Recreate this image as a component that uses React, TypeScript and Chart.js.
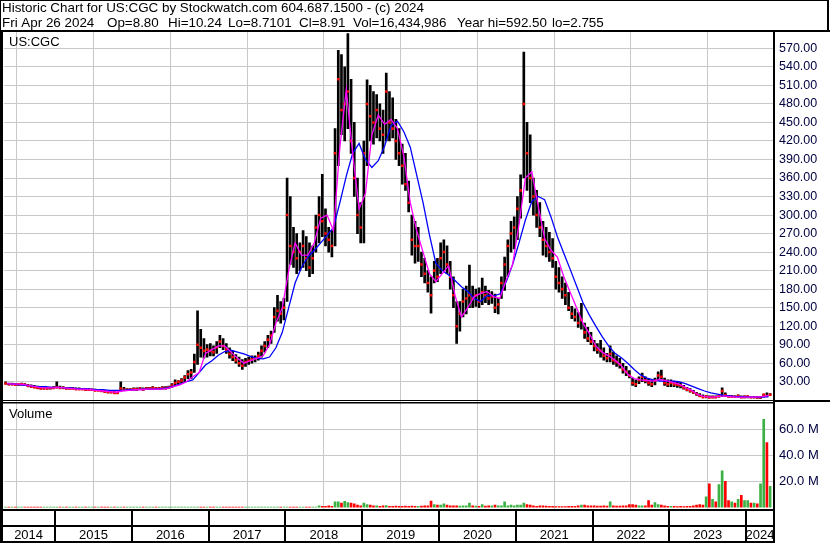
import { useEffect, useRef } from 'react';
import { Chart, registerables } from 'chart.js';
Chart.register(...registerables);

// ---- time frame ----
const chartStart = 2014 + 4 / 12; // left edge of plot (May 2014)
const chartEnd = 2024.363; // right edge of plot
const yearLabels = ['2014', '2015', '2016', '2017', '2018', '2019', '2020', '2021', '2022', '2023', '2024'];
const yearBoundaries = [2015, 2016, 2017, 2018, 2019, 2020, 2021, 2022, 2023, 2024];
const priceTicks = [30, 60, 90, 120, 150, 180, 210, 240, 270, 300, 330, 360, 390, 420, 450, 480, 510, 540, 570];
const volumeTicks = [20, 40, 60];

// ---- half-month price bars (May 2014 .. Apr 2024) ----
const high = [
  30, 28, 28, 27, 27, 28, 27, 26, 25, 24, 23, 22, 21, 21, 21, 22,
  30, 23, 22, 21, 21, 21, 20, 20, 19, 19, 19, 18, 18, 17, 17, 16, 15, 14, 14, 13, 30, 21, 19, 19,
  20, 20, 21, 20, 21, 21, 22, 21, 21, 22, 22, 23, 27, 33, 32, 35, 40, 48, 50, 75, 145, 115, 100, 90,
  92, 88, 95, 105, 100, 92, 85, 80, 74, 70, 66, 68, 70, 72, 72, 78, 88, 95, 105, 112, 150, 170, 160, 165,
  360, 330, 280, 270, 255, 275, 265, 255, 250, 300, 330, 366, 310, 280, 275, 440, 567, 560, 540, 594, 520, 450, 360, 320,
  420, 519, 510, 500, 495, 480, 470, 530, 500, 490, 455, 440, 415, 400, 355, 300, 290, 280, 240, 230, 210, 200, 225, 230,
  255, 260, 250, 225, 200, 160, 160, 180, 185, 219, 185, 180, 182, 198, 185, 178, 176, 172, 165, 200, 232, 260, 290, 297,
  330, 365, 564, 450, 430, 360, 340, 320, 290, 280, 272, 262, 225, 215, 200, 190, 175, 152, 148, 142, 157, 125, 118, 110,
  97, 92, 97, 85, 76, 88, 78, 72, 68, 60, 55, 48, 36, 33, 38, 44, 38, 35, 33, 36, 46, 49, 36, 33,
  33, 31, 30, 29, 24, 21, 19, 16, 13, 11, 9, 8, 7, 7, 7, 8, 20, 12, 8, 8, 7, 9, 7, 7,
  7, 6, 6, 6, 6, 10, 12, 11,
];
const low = [
  26, 25, 25, 24, 24, 25, 24, 22, 21, 20, 19, 18, 18, 18, 18, 19,
  20, 19, 19, 18, 18, 18, 17, 17, 17, 16, 16, 16, 15, 15, 14, 13, 12, 12, 11, 11, 15, 16, 16, 16,
  16, 16, 17, 16, 17, 17, 18, 17, 17, 18, 18, 19, 21, 24, 26, 28, 30, 35, 35, 45, 58, 70, 68, 70,
  72, 72, 76, 85, 82, 76, 68, 64, 60, 55, 50, 55, 58, 60, 62, 65, 70, 78, 85, 92, 110, 128, 125, 130,
  160, 220, 215, 205, 210, 215, 210, 200, 205, 240, 255, 265, 250, 240, 232, 250, 380, 430, 420, 440, 400, 330, 270, 255,
  255, 380, 420, 415, 425, 420, 400, 420, 420, 425, 390, 380, 350, 340, 305, 235, 222, 225, 200, 190, 175, 141, 190, 192,
  205, 210, 205, 180, 150, 92, 112, 135, 140, 150, 150, 152, 150, 155, 158, 155, 157, 142, 140, 165, 178, 200, 240, 245,
  260, 295, 360, 340, 320, 300, 280, 265, 235, 232, 225, 215, 180, 175, 165, 155, 145, 132, 128, 118, 115, 100, 95, 90,
  80, 76, 70, 65, 62, 62, 58, 55, 52, 44, 40, 36, 24, 22, 27, 30, 28, 24, 22, 25, 32, 33, 24, 22,
  22, 22, 21, 20, 18, 15, 13, 11, 8, 6, 5, 4, 4, 4, 4, 5, 6, 6, 5, 5, 5, 5, 4, 4,
  4, 4, 4, 3, 3, 5, 7, 8,
];
const close = [
  27, 26, 26, 25, 26, 26, 25, 23, 22, 21, 20, 19, 19, 19, 20, 20,
  21, 20, 20, 19, 19, 19, 18, 18, 18, 17, 17, 17, 16, 16, 15, 14, 13, 13, 12, 12, 19, 17, 17, 17,
  18, 18, 19, 18, 19, 19, 20, 19, 19, 20, 20, 21, 24, 28, 30, 32, 37, 42, 45, 62, 90, 85, 80, 82,
  80, 78, 86, 95, 88, 82, 75, 70, 65, 60, 56, 62, 64, 66, 68, 72, 80, 88, 98, 105, 135, 145, 140, 150,
  300, 250, 240, 230, 240, 250, 230, 215, 230, 280, 300, 290, 270, 260, 250, 400, 520, 470, 480, 500, 420, 360, 300, 280,
  400, 480, 460, 450, 470, 440, 430, 500, 450, 440, 420, 400, 380, 350, 320, 260, 250, 250, 220, 205, 190, 170, 210, 200,
  230, 240, 220, 200, 170, 120, 140, 160, 165, 170, 165, 170, 160, 175, 170, 165, 168, 150, 155, 190, 220, 250, 270, 280,
  310, 340, 480, 400, 360, 330, 300, 280, 260, 250, 240, 230, 200, 190, 180, 170, 150, 140, 135, 125, 130, 110, 100, 95,
  88, 82, 80, 72, 68, 75, 65, 62, 58, 50, 46, 40, 28, 26, 33, 38, 32, 28, 26, 32, 40, 38, 28, 26,
  28, 26, 25, 24, 20, 17, 15, 13, 10, 7, 5, 6, 4.5, 5, 4.8, 6.5, 15, 8, 6, 6.2, 5.8, 7, 5, 5.5,
  6, 5, 5, 4.5, 5, 9, 7, 9,
];
// volume in millions, half-month
const volume = [
  0, 0, 0, 0, 0, 0, 0, 0, 0, 0, 0, 0, 0, 0, 0, 0,
  0, 0, 0, 0, 0, 0, 0, 0, 0, 0, 0, 0, 0, 0, 0, 0, 0, 0, 0, 0, 0, 0, 0, 0,
  0, 0, 0, 0, 0, 0, 0, 0, 0, 0, 0, 0, 0, 0, 0, 0, 0, 0, 0, 0, 0, 0, 0, 0,
  0, 0, 0, 0, 0, 0, 0, 0, 0, 0, 0, 0, 0, 0, 0, 0, 0, 0, 0, 0, 0, 0, 0, 0,
  0, 0, 0, 0, 0, 0, 0, 0, 0, 0, 1, 0.5, 0.5, 1, 0.5, 4, 4, 3, 4.5, 3.5, 3, 2.5, 1.5, 1,
  3, 2, 1.5, 1, 1, 0.5, 1, 1.2, 0.5, 0.5, 0.8, 0.5, 0.5, 0.8, 0.5, 0.8, 0.5, 0.5, 0.8, 1, 1, 4.6, 2, 1.5,
  1.5, 2.5, 1.5, 1, 1, 1, 0.8, 1, 1, 3, 1, 0.8, 0.5, 2, 0.8, 1, 1, 1.5, 1, 1, 4, 1, 1.5, 1,
  1.5, 1.5, 3, 2, 1.5, 1, 0.5, 1, 1, 0.8, 0.5, 0.5, 0.3, 0.3, 0.3, 0.3, 0.5, 0.5, 0.5, 1, 1.5, 1.5, 1, 1,
  1, 0.8, 0.8, 1, 0.8, 4, 1, 0.8, 0.8, 1, 1, 2, 2, 1.5, 1, 1, 1, 5, 1.5, 3.5, 2, 1.5, 1, 0.5,
  0.5, 0.5, 0.3, 0.5, 0.3, 0.5, 0.5, 1, 1.5, 2, 1.5, 8, 18, 6, 4, 17.5, 28, 20, 5, 4, 3, 6, 9, 5,
  5, 3, 3, 2.5, 18, 68, 50, 16,
];

// ---- monthly moving averages (May 2014 .. Apr 2024) ----
const shortAvg = [
  27, 26, 26, 25, 23, 21, 20, 20,
  21, 20, 19, 18, 18, 17, 16, 15, 14, 13, 15, 16,
  17, 17, 18, 18, 18, 19, 22, 25, 30, 38, 45, 76,
  82, 88, 88, 78, 68, 60, 64, 68, 72, 90, 125, 150,
  210, 255, 235, 235, 255, 295, 300, 275, 410, 503, 400, 310,
  335, 430, 462, 447, 455, 440, 395, 320, 275, 240, 205, 192,
  205, 218, 170, 135, 150, 168, 173, 176, 168, 165, 195, 220,
  285, 360, 370, 315, 262, 243, 232, 200, 175, 150, 125, 108,
  88, 78, 72, 65, 56, 42, 35, 33, 32, 31, 34, 32,
  29, 26, 21, 16, 9, 6, 5, 6, 7, 6, 5, 5,
  5, 5, 6, 8,
];
const longAvg = [
  27, 26, 25, 24, 23, 22, 22, 21,
  21, 20, 20, 19, 19, 18, 17, 17, 16, 16, 16, 17,
  17, 18, 18, 18, 19, 20, 23, 26, 30, 33, 45, 57,
  64, 73, 79, 81, 78, 75, 71, 68, 67, 70, 85, 110,
  150, 190, 215, 232, 243, 255, 267, 280, 320, 363, 400, 416,
  390, 377, 388, 412, 445, 452, 435, 410, 365, 320, 268, 222,
  210, 203, 194, 184, 176, 165, 160, 170, 169, 172, 192, 220,
  255, 292, 322, 330, 325, 297, 265, 238, 212, 185, 158, 138,
  120, 103, 88, 76, 69, 60, 50, 41, 36, 33, 31, 31,
  31, 30, 27, 23, 19, 15, 12, 10, 8, 7, 6, 6,
  5, 5, 5, 6,
];

const headerLine1 = 'Historic Chart for US:CGC by Stockwatch.com 604.687.1500 - (c) 2024';
const headerLine2: [string, number][] = [
  ['Fri Apr 26 2024', 2],
  ['Op=8.80', 107],
  ['Hi=10.24', 168],
  ['Lo=8.7101', 228],
  ['Cl=8.91', 299],
  ['Vol=16,434,986', 353],
  ['Year hi=592.50', 457],
  ['lo=2.755', 552],
];

const FONT = '"Liberation Sans", Arial, sans-serif';

const framePlugin = {
  id: 'stockFrame',
  afterDraw(chart: any) {
    const ctx = chart.ctx as CanvasRenderingContext2D;
    const xs = chart.scales.x;
    const area = chart.chartArea;
    ctx.save();
    ctx.fillStyle = '#000';
    // header box
    ctx.fillRect(0, 0, 829, 1);
    ctx.fillRect(0, 0, 1, 31);
    ctx.fillRect(827, 0, 2, 31);
    ctx.fillRect(0, 30, 830, 2);
    // left border
    ctx.fillRect(0, 30, 3, 513);
    // right separator
    ctx.fillRect(773, 30, 2, 513);
    // double line between panes
    ctx.fillRect(0, 400, 774, 1);
    ctx.fillRect(0, 402, 774, 1.5);
    ctx.fillRect(774, 400, 56, 2);
    // bottom axis boxes
    ctx.fillRect(0, 509, 775, 2);
    ctx.fillRect(0, 525, 775, 2);
    ctx.fillRect(0, 541, 775, 2);
    const bounds = [area.left - 2, ...yearBoundaries.map((y) => xs.getPixelForValue(y)), 774];
    yearBoundaries.forEach((y) => {
      const px = Math.round(xs.getPixelForValue(y));
      ctx.fillRect(px - 1, 509, 2, 34);
    });
    ctx.font = `13px ${FONT}`;
    ctx.textAlign = 'center';
    ctx.textBaseline = 'alphabetic';
    yearLabels.forEach((lab, i) => {
      ctx.fillText(lab, (bounds[i] + bounds[i + 1]) / 2, 539);
    });
    // header text
    ctx.textAlign = 'left';
    ctx.font = `13.4px ${FONT}`;
    ctx.fillText(headerLine1, 2, 11.5);
    headerLine2.forEach(([t, x]) => ctx.fillText(t, x, 26.5));
    ctx.font = `13px ${FONT}`;
    ctx.fillText('US:CGC', 9, 46);
    ctx.fillText('Volume', 9, 418);
    ctx.restore();
  },
};

export default function App() {
  const ref = useRef<HTMLCanvasElement>(null);
  useEffect(() => {
    document.body.style.margin = '0';
    const periods = high.map((_, i) => chartStart + (i + 0.5) / 24);
    const months = shortAvg.map((_, i) => chartStart + (i + 0.5) / 12);
    const barData = periods.map((x, i) => ({ x, y: [low[i], high[i]] }));
    const closeData = periods.map((x, i) => ({ x, y: close[i] }));
    const volData = periods.map((x, i) => ({ x, y: volume[i] }));
    const volColors = volume.map((_, i) => (i > 0 && close[i] < close[i - 1] ? '#ff0000' : '#3cb043'));
    const chart = new Chart(ref.current!, {
      type: 'bar',
      data: {
        datasets: [
          {
            type: 'line',
            data: months.map((x, i) => ({ x, y: shortAvg[i] })),
            borderColor: '#ff00ff',
            borderWidth: 1.3,
            pointRadius: 0,
            yAxisID: 'y',
            order: 0,
          } as any,
          {
            type: 'line',
            data: months.map((x, i) => ({ x, y: longAvg[i] })),
            borderColor: '#0000ff',
            borderWidth: 1.3,
            pointRadius: 0,
            yAxisID: 'y',
            order: 1,
          },
          {
            type: 'line',
            data: closeData,
            showLine: false,
            pointStyle: 'rect',
            pointRadius: 1.8,
            pointBorderWidth: 0,
            pointBackgroundColor: '#ff0000',
            yAxisID: 'y',
            order: 2,
          },
          {
            type: 'bar',
            data: barData as any,
            backgroundColor: '#000000',
            barThickness: 2,
            grouped: false,
            yAxisID: 'y',
            order: 3,
          },
          {
            type: 'bar',
            data: volData,
            backgroundColor: volColors,
            barThickness: 2,
            grouped: false,
            yAxisID: 'y2',
            order: 4,
          },
        ],
      },
      options: {
        animation: false,
        responsive: false,
        devicePixelRatio: 1,
        layout: { padding: { top: 32, left: 2, right: 0, bottom: 34 } },
        plugins: { legend: { display: false }, tooltip: { enabled: false } },
        scales: {
          x: {
            type: 'linear',
            min: chartStart,
            max: chartEnd,
            offset: false,
            afterBuildTicks: (s: any) => {
              s.ticks = yearBoundaries.map((v) => ({ value: v }));
            },
            afterFit: (s: any) => {
              s.height = 0;
            },
            ticks: { display: false },
            grid: { color: '#c8c8c8', lineWidth: 1, drawTicks: false },
            border: { display: false },
          },
          y: {
            type: 'linear',
            position: 'right',
            stack: 'panes',
            stackWeight: 369.5,
            min: -2,
            max: 596.5,
            afterBuildTicks: (s: any) => {
              s.ticks = priceTicks.map((v) => ({ value: v }));
            },
            afterFit: (s: any) => {
              s.width = 56;
            },
            ticks: {
              autoSkip: false,
              padding: 5,
              color: '#000040',
              font: { family: FONT, size: 12.5 },
              callback: (v: any) => Number(v).toFixed(2),
            },
            grid: { color: '#c8c8c8', lineWidth: 1, drawTicks: false },
            border: { display: false },
          },
          y2: {
            type: 'linear',
            position: 'right',
            stack: 'panes',
            stackWeight: 107.5,
            min: -1.5,
            max: 81.8,
            afterBuildTicks: (s: any) => {
              s.ticks = volumeTicks.map((v) => ({ value: v }));
            },
            afterFit: (s: any) => {
              s.width = 56;
            },
            ticks: {
              autoSkip: false,
              padding: 5,
              color: '#000040',
              font: { family: FONT, size: 13 },
              callback: (v: any) => Number(v).toFixed(1) + ' M',
            },
            grid: { color: '#c8c8c8', lineWidth: 1, drawTicks: false },
            border: { display: false },
          },
        },
      },
      plugins: [framePlugin],
    });
    return () => chart.destroy();
  }, []);
  return <canvas ref={ref} width={830} height={543} style={{ display: 'block' }} />;
}
